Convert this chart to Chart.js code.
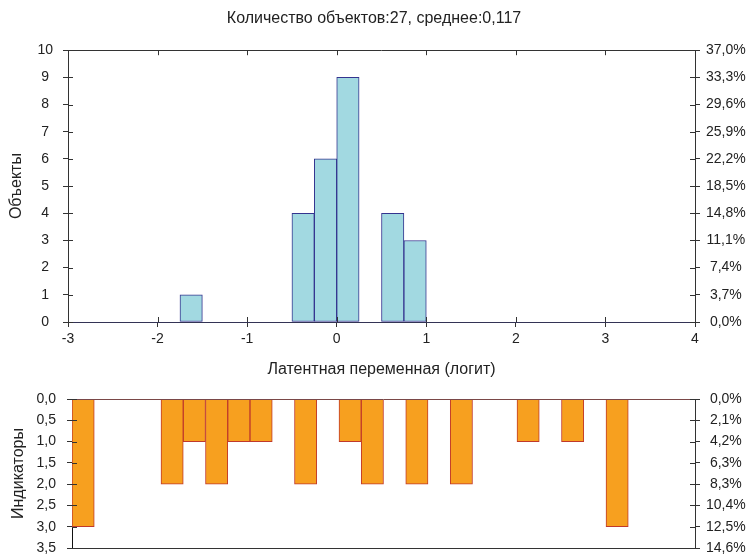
<!DOCTYPE html>
<html>
<head>
<meta charset="utf-8">
<script src="https://cdn.jsdelivr.net/npm/chart.js@4.4.1/dist/chart.umd.min.js"></script>
<style>
  html, body { margin: 0; padding: 0; background: #fff; }
  #wrap { position: relative; width: 748px; height: 554px; }
  #topBox { position: absolute; left: 0; top: 0; width: 748px; height: 384px; }
  #botBox { position: absolute; left: 0; top: 384px; width: 748px; height: 170px; }
</style>
</head>
<body>
<div id="wrap">
  <div id="topBox"><canvas id="histChart"></canvas></div>
  <div id="botBox"><canvas id="indChart"></canvas></div>
</div>
<script>
// histogram of objects (latent variable, logit), bins of 0.25
const binStarts = [-1.75, -0.5, -0.25, 0, 0.5, 0.75];
const binCounts = [1, 4, 6, 9, 4, 3];
const binWidth = 0.25;
const countPctTicks = ['0,0%', '3,7%', '7,4%', '11,1%', '14,8%', '18,5%', '22,2%', '25,9%', '29,6%', '33,3%', '37,0%'];

// indicators, one slot per 0.25 step
const indicatorValues = [3, 0, 0, 0, 2, 1, 2, 1, 1, 0, 2, 0, 1, 2, 0, 2, 0, 2, 0, 0, 1, 0, 1, 0, 3, 0, 0, 0];
const indTicks = ['0,0', '0,5', '1,0', '1,5', '2,0', '2,5', '3,0', '3,5'];
const indPctTicks = ['0,0%', '2,1%', '4,2%', '6,3%', '8,3%', '10,4%', '12,5%', '14,6%'];

const titleText = 'Количество объектов:27, среднее:0,117';

Chart.defaults.font.family = '"Liberation Sans", Arial, sans-serif';
Chart.defaults.font.size = 14;
Chart.defaults.color = '#222';

const axisColor = '#333';
const titleFont = { size: 16, weight: 'normal' };

// draws the top frame line and the inner half of the tick marks
const frameTicks = {
  id: 'frameTicks',
  afterDraw(chart, args, opts) {
    const { ctx, chartArea: a, scales } = chart;
    const px = v => Math.round(v) + 0.5;
    ctx.save();
    ctx.lineWidth = 1;
    ctx.strokeStyle = opts.topColor || axisColor;
    ctx.beginPath();
    ctx.moveTo(a.left, px(a.top));
    ctx.lineTo(a.right, px(a.top));
    ctx.stroke();
    ctx.strokeStyle = axisColor;
    ctx.beginPath();
    (opts.left ? scales[opts.left].ticks : []).forEach((t, i) => {
      const y = px(scales[opts.left].getPixelForTick(i));
      ctx.moveTo(a.left, y); ctx.lineTo(a.left + 5, y);
    });
    (opts.right ? scales[opts.right].ticks : []).forEach((t, i) => {
      const y = px(scales[opts.right].getPixelForTick(i));
      ctx.moveTo(a.right, y); ctx.lineTo(a.right - 5, y);
    });
    if (opts.bottom) {
      scales[opts.bottom].ticks.forEach((t, i) => {
        const x = px(scales[opts.bottom].getPixelForTick(i));
        ctx.moveTo(x, a.bottom); ctx.lineTo(x, a.bottom - 5);
        ctx.moveTo(x, a.top); ctx.lineTo(x, a.top + 5);
      });
    }
    ctx.stroke();
    ctx.restore();
  }
};

const sideGrid = { drawOnChartArea: false, tickLength: 5, color: axisColor };

// fixed width for a vertical axis, no extra padding for overflowing labels
const fixWidth = w => s => { s.width = w; s.paddingTop = 0; s.paddingBottom = 0; };

new Chart(document.getElementById('histChart'), {
  type: 'bar',
  data: {
    datasets: [{
      data: binStarts.map((s, i) => ({ x: s + binWidth / 2, y: binCounts[i] })),
      backgroundColor: '#A2D9E1',
      borderColor: '#34348F',
      borderWidth: 1,
      borderSkipped: false,
      barPercentage: 1,
      categoryPercentage: 1
    }]
  },
  options: {
    animation: false,
    responsive: true,
    maintainAspectRatio: false,
    plugins: {
      legend: { display: false },
      tooltip: { enabled: false },
      title: {
        display: true,
        text: titleText,
        font: titleFont,
        color: '#222',
        padding: { top: 9, bottom: 22 }
      },
      frameTicks: { left: 'y', right: 'y2', bottom: 'x' }
    },
    scales: {
      x: {
        type: 'linear',
        min: -3, max: 4,
        offset: false,
        ticks: { stepSize: 1, padding: 4 },
        grid: { ...sideGrid, offset: false },
        border: { color: '#333355' },
        title: { display: true, text: 'Латентная переменная (логит)', font: titleFont, padding: { top: 0, bottom: 5 } },
        afterFit: s => { s.height = 62; }
      },
      y: {
        position: 'left',
        min: 0, max: 10,
        ticks: { stepSize: 1, crossAlign: 'center', padding: 10 },
        grid: sideGrid,
        border: { color: axisColor },
        title: { display: true, text: 'Объекты', font: titleFont, padding: { top: 7, bottom: 0 } },
        afterFit: fixWidth(68)
      },
      y2: {
        position: 'right',
        min: 0, max: 10,
        ticks: { stepSize: 1, autoSkip: false, crossAlign: 'center', padding: 6,
          callback: v => countPctTicks[Math.round(v)] },
        grid: sideGrid,
        border: { color: axisColor },
        afterFit: fixWidth(53)
      }
    }
  },
  plugins: [frameTicks]
});

new Chart(document.getElementById('indChart'), {
  type: 'bar',
  data: {
    labels: indicatorValues.map((v, i) => String(i + 1)),
    datasets: [{
      data: indicatorValues,
      backgroundColor: '#F7A01F',
      borderColor: '#C0392B',
      borderWidth: 1,
      borderSkipped: 'start',
      barPercentage: 1,
      categoryPercentage: 1
    }]
  },
  options: {
    animation: false,
    responsive: true,
    maintainAspectRatio: false,
    layout: { padding: { top: 15 } },
    plugins: {
      legend: { display: false },
      tooltip: { enabled: false },
      frameTicks: { left: 'y', right: 'y2', topColor: '#7A4848' }
    },
    scales: {
      x: {
        ticks: { display: false },
        grid: { display: false },
        border: { color: axisColor },
        afterFit: s => { s.height = 6; s.paddingLeft = 0; s.paddingRight = 0; }
      },
      y: {
        position: 'left',
        reverse: true,
        min: 0, max: 3.5,
        ticks: { stepSize: 0.5, autoSkip: false, crossAlign: 'center', padding: 11,
          callback: v => indTicks[Math.round(v / 0.5)] },
        grid: sideGrid,
        border: { color: '#111' },
        title: { display: true, text: 'Индикаторы', font: titleFont, padding: { top: 9, bottom: 0 } },
        afterFit: fixWidth(72)
      },
      y2: {
        position: 'right',
        reverse: true,
        min: 0, max: 3.5,
        ticks: { stepSize: 0.5, autoSkip: false, crossAlign: 'center', padding: 6,
          callback: v => indPctTicks[Math.round(v / 0.5)] },
        grid: sideGrid,
        border: { color: axisColor },
        afterFit: fixWidth(53)
      }
    }
  },
  plugins: [frameTicks]
});
</script>
</body>
</html>
